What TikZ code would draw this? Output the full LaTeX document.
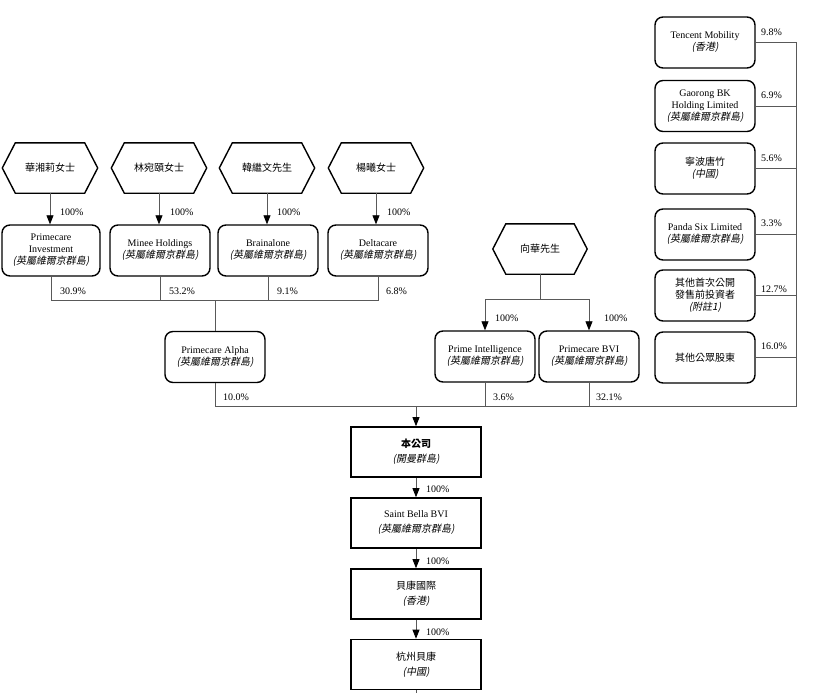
\documentclass[tikz,border=0pt]{standalone}
\usepackage{fontspec}
\setmainfont{Liberation Serif}
\newfontfamily\cjk{Noto Sans CJK TC}
\newfontfamily\cjki{Noto Sans CJK TC}[FakeSlant=0.2]
\usetikzlibrary{arrows.meta,calc}
\newcommand\cn[1]{{\cjk #1}}
\newcommand\ci[1]{{\cjki (#1)}}
\newcommand\drawhex[1]{%
  \draw[hexline] (#1.west) -- ($(#1.north west)+(13,0)$) -- ($(#1.north east)+(-13,0)$) -- (#1.east)
    -- ($(#1.south east)+(-13,0)$) -- ($(#1.south west)+(13,0)$) -- cycle;}
\begin{document}
\begin{tikzpicture}[x=1pt,y=-1pt,
  every node/.style={font=\fontsize{10}{12}\selectfont},
  hexnode/.style={minimum width=95pt,minimum height=50pt,inner sep=0pt,align=center},
  hexline/.style={line width=1.4pt,black},
  rbox/.style={draw,line width=1.4pt,rounded corners=8pt,minimum width=100pt,minimum height=51pt,inner sep=1pt,align=center},
  sbox/.style={draw,line width=1.6pt,minimum width=130pt,minimum height=50pt,inner sep=1pt,align=center,font=\fontsize{10}{15}\selectfont},
  conn/.style={draw=black!65,line width=0.8pt},
  arr/.style={conn,-{Triangle[width=7pt,length=9pt,color=black]}},
  pct/.style={anchor=west,inner sep=0pt,font=\fontsize{10}{12}\selectfont}
]
\useasboundingbox (0,0) rectangle (830,693);

% top hexagons
\node[hexnode] (h1) at (50,168) {\cn{華湘莉女士}};
\node[hexnode] (h2) at (159,168) {\cn{林宛頤女士}};
\node[hexnode] (h3) at (267,168) {\cn{韓繼文先生}};
\node[hexnode] (h4) at (376,168) {\cn{楊曦女士}};
\drawhex{h1}\drawhex{h2}\drawhex{h3}\drawhex{h4}

% top boxes
\node[rbox,minimum width=98pt] (b1) at (51,250.5) {Primecare\\Investment\\\ci{英屬維爾京群島}};
\node[rbox] (b2) at (160,250.5) {Minee Holdings\\\ci{英屬維爾京群島}};
\node[rbox] (b3) at (268,250.5) {Brainalone\\\ci{英屬維爾京群島}};
\node[rbox] (b4) at (378,250.5) {Deltacare\\\ci{英屬維爾京群島}};

\foreach \i in {1,...,4}{\draw[arr] (h\i.south) -- (h\i.south |- b\i.north);}
\node[pct] at (60,212) {100\%};
\node[pct] at (170,212) {100\%};
\node[pct] at (277,212) {100\%};
\node[pct] at (387,212) {100\%};

% bar to Primecare Alpha
\coordinate (bar1) at (0,300);
\node[rbox] (alpha) at (215,357) {Primecare Alpha\\\ci{英屬維爾京群島}};
\draw[conn] (b1.south) -- (b1.south |- bar1) -- (b4.south |- bar1) -- (b4.south);
\draw[conn] (b2.south) -- (b2.south |- bar1);
\draw[conn] (b3.south) -- (b3.south |- bar1);
\draw[conn] (alpha.north |- bar1) -- (alpha.north);
\node[pct] at (60,291) {30.9\%};
\node[pct] at (169,291) {53.2\%};
\node[pct] at (277,291) {9.1\%};
\node[pct] at (386,291) {6.8\%};

% Xiang Hua
\node[hexnode,minimum width=94pt] (hx) at (540,249) {\cn{向華先生}};
\drawhex{hx}
\node[rbox] (pi) at (485,356.5) {Prime Intelligence\\\ci{英屬維爾京群島}};
\node[rbox] (bvi) at (589,356.5) {Primecare BVI\\\ci{英屬維爾京群島}};
\coordinate (bar2) at (0,299);
\draw[conn] (hx.south) -- (hx.south |- bar2);
\draw[arr] (pi.north |- bar2) -- (bvi.north |- bar2) -- (bvi.north);
\draw[arr] (bvi.north |- bar2) -- (pi.north |- bar2) -- (pi.north);
\node[pct] at (495,318) {100\%};
\node[pct] at (604,318) {100\%};

% right column
\node[rbox] (r1) at (705,42.5) {Tencent Mobility\\\ci{香港}};
\node[rbox] (r2) at (705,106) {Gaorong BK\\Holding Limited\\\ci{英屬維爾京群島}};
\node[rbox] (r3) at (705,168.5) {\cn{寧波唐竹}\\\ci{中國}};
\node[rbox] (r4) at (705,234.5) {Panda Six Limited\\\ci{英屬維爾京群島}};
\node[rbox] (r5) at (705,295.5) {\cn{其他首次公開}\\\cn{發售前投資者}\\\ci{附註1}};
\node[rbox] (r6) at (705,357.5) {\cn{其他公眾股東}};
\coordinate (rx) at (796,0);
\coordinate (bar3) at (0,406);
\foreach \i in {1,...,6}{\draw[conn] (r\i.east) -- (r\i.east -| rx);}
\draw[conn] (r1.east -| rx) -- (rx |- bar3) -- (alpha.south |- bar3) -- (alpha.south);
\draw[conn] (pi.south) -- (pi.south |- bar3);
\draw[conn] (bvi.south) -- (bvi.south |- bar3);
\node[pct] at (761,32) {9.8\%};
\node[pct] at (761,95) {6.9\%};
\node[pct] at (761,158) {5.6\%};
\node[pct] at (761,223) {3.3\%};
\node[pct] at (761,289) {12.7\%};
\node[pct] at (761,346) {16.0\%};
\node[pct] at (223,397) {10.0\%};
\node[pct] at (493,397) {3.6\%};
\node[pct] at (596,397) {32.1\%};

% bottom chain
\node[sbox] (c1) at (416,452) {{\cjk\bfseries 本公司}\\\ci{開曼群島}};
\node[sbox] (c2) at (416,523) {Saint Bella BVI\\\ci{英屬維爾京群島}};
\node[sbox] (c3) at (416,594) {\cn{貝康國際}\\\ci{香港}};
\node[sbox] (c4) at (416,664.5) {\cn{杭州貝康}\\\ci{中國}};
\coordinate (bot) at (416,693);
\draw[arr] (c1.north |- bar3) -- (c1.north);
\draw[arr] (c1.south) -- (c2.north);
\draw[arr] (c2.south) -- (c3.north);
\draw[arr] (c3.south) -- (c4.north);
\draw[conn] (c4.south) -- (bot);
\node[pct] at (426,489) {100\%};
\node[pct] at (426,561) {100\%};
\node[pct] at (426,632) {100\%};
\end{tikzpicture}
\end{document}
